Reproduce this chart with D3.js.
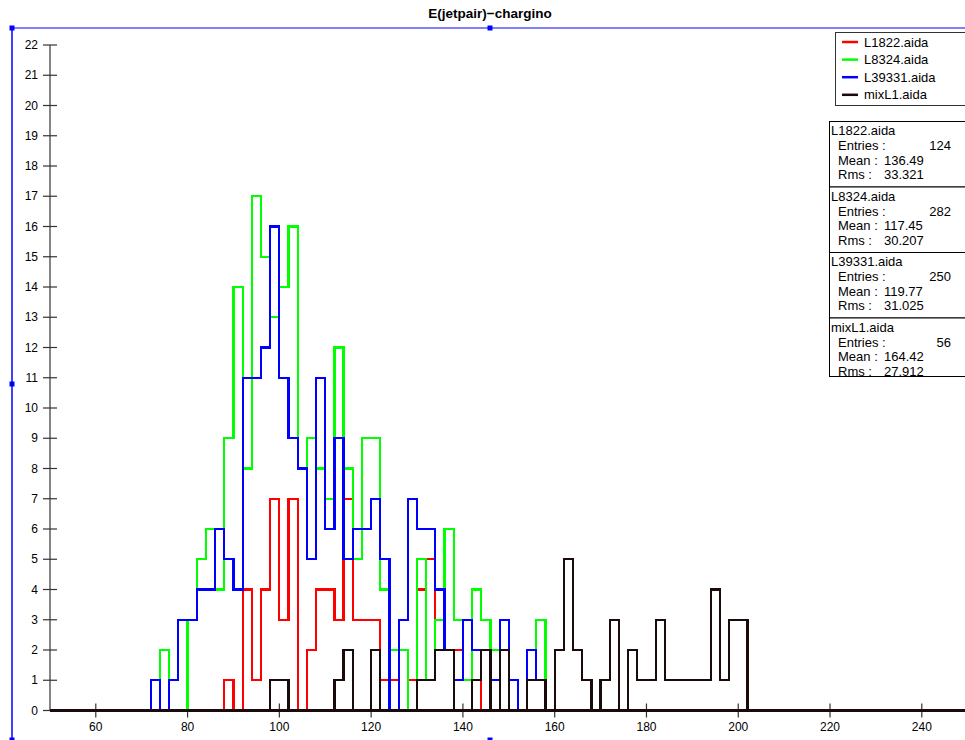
<!DOCTYPE html>
<html><head><meta charset="utf-8">
<script src="https://cdn.jsdelivr.net/npm/d3@7"></script>
<style>body{margin:0;background:#fff;}svg{display:block;font-family:"Liberation Sans",Arial,sans-serif;}</style>
</head><body><svg id="c" width="965" height="740"></svg>
<script>
// Histogram bins: width 2, left edges from 70 to 202 (zero elsewhere in 50..250)
const binWidth = 2;
const firstEdge = 70;
const xDomain = [50, 250];
const yDomain = [0, 22];
const xTicks = [60, 80, 100, 120, 140, 160, 180, 200, 220, 240];
const yTicks = d3.range(0, 23);

const l1822 = [0,0,0,0,0,0,0,0,0, 1,0,4,1,4,7,3,7,0,2,4,4,3,7,3,3,3,1,1,0,1,4,5,2,2,2,1,1,
  0,0,0,0,0,0,0,0,0,0,0,0,0,0,0,0,0,0,0,0,0,0,0,0,0,0,0,0,0,0];
const l8324 = [0,0,2,0,0,3,5,6,4,9,14,8,17,15,13,14,16,8,9,8,7,12,8,5,9,9,4,2,2,0,5,1,3,6,3,1,4,3,2,3,0,0,1,3,
  0,0,0,0,0,0,0,0,0,0,0,0,0,0,0,0,0,0,0,0,0,0,0];
const l39331 = [0,1,0,1,3,3,4,4,6,5,4,11,11,12,16,11,9,8,5,11,6,9,5,6,6,7,5,0,3,7,6,6,4,2,1,3,2,2,1,3,1,0,2,1,
  0,0,0,0,0,0,0,0,0,0,0,0,0,0,0,0,0,0,0,0,0,0,0];
const mixL1 = [0,0,0,0,0,0,0,0,0,0,0,0,0,0, 1,1, 0,0,0,0,0, 1,2,0,0,2,0,0,0,0,1,1,2,2,0,0,1,2,0,2,0,0,1,1,0,2,5,2,1,0,1,3,0,2,1,1,3,1,1,1,1,1,4,1,3,3,0];

const seriesNames = ["L1822.aida", "L8324.aida", "L39331.aida", "mixL1.aida"];
const seriesColors = ["#ff0000", "#00ff00", "#0000ff", "#1a0a0a"];
const seriesData = [l1822, l8324, l39331, mixL1];
const statEntries = ["124", "282", "250", "56"];
const statMeans = ["136.49", "117.45", "119.77", "164.42"];
const statRms = ["33.321", "30.207", "31.025", "27.912"];
const title = "E(jetpair)\u2212chargino";

const svg = d3.select("#c");
const x = d3.scaleLinear().domain(xDomain).range([49.9, 967.7]);
const y = d3.scaleLinear().domain(yDomain).range([710.5, 45]);

// title
svg.append("text").attr("x", 490).attr("y", 18).attr("text-anchor", "middle")
  .attr("font-size", 13.5).attr("font-weight", "bold").attr("fill", "#000").text(title);

// selection frame
svg.append("line").attr("x1", 12).attr("x2", 965).attr("y1", 28).attr("y2", 28)
  .attr("stroke", "#7f7fff").attr("stroke-width", 2);
svg.append("line").attr("x1", 12).attr("x2", 12).attr("y1", 28).attr("y2", 740)
  .attr("stroke", "#0000ff").attr("stroke-width", 1.5);
[[12,28],[490,28],[12,384],[12,740],[490,740]].forEach(p => {
  svg.append("rect").attr("x", p[0]-2.5).attr("y", p[1]-2.5).attr("width", 5).attr("height", 5).attr("fill", "#0000ff");
});

// axes
const axisColor = "#333";
const yAxis = svg.append("g").attr("transform", "translate(50,0)");
yAxis.append("line").attr("x1", 0).attr("x2", 0).attr("y1", y(0)).attr("y2", y(22)).attr("stroke", axisColor).attr("stroke-width", 1.2);
yTicks.forEach(t => {
  yAxis.append("line").attr("x1", -7).attr("x2", 7).attr("y1", y(t)).attr("y2", y(t)).attr("stroke", axisColor).attr("stroke-width", 1.2);
  yAxis.append("text").attr("x", -12).attr("y", y(t)).attr("dy", "0.35em").attr("text-anchor", "end")
    .attr("font-size", 12).attr("fill", "#000").text(t);
});
const xAxis = svg.append("g");
xTicks.forEach(t => {
  xAxis.append("line").attr("x1", x(t)).attr("x2", x(t)).attr("y1", y(0)-7).attr("y2", y(0)+7).attr("stroke", axisColor).attr("stroke-width", 1.2);
  xAxis.append("text").attr("x", x(t)).attr("y", y(0)+20).attr("text-anchor", "middle")
    .attr("font-size", 12).attr("fill", "#000").text(t);
});

// histograms as step lines
function fullBins(arr) {
  const n = Math.round((xDomain[1] - xDomain[0]) / binWidth);
  return d3.range(n).map(i => {
    const edge = xDomain[0] + i * binWidth;
    const k = Math.round((edge - firstEdge) / binWidth);
    return {x0: edge, x1: edge + binWidth, v: (k >= 0 && k < arr.length) ? arr[k] : 0};
  });
}
seriesData.forEach((arr, si) => {
  const bins = fullBins(arr);
  const pts = [];
  bins.forEach(b => { pts.push([b.x0, b.v]); pts.push([b.x1, b.v]); });
  const line = d3.line().x(d => x(d[0])).y(d => y(d[1]));
  svg.append("path").attr("d", line(pts)).attr("fill", "none")
    .attr("stroke", seriesColors[si]).attr("stroke-width", 2.2).attr("stroke-linejoin", "miter")
    .attr("shape-rendering", "crispEdges");
});
// x axis baseline drawn on top (dark, like the last histogram's zero level)
svg.append("line").attr("x1", x(xDomain[0])).attr("x2", 965).attr("y1", y(0)).attr("y2", y(0))
  .attr("stroke", "#1a0a0a").attr("stroke-width", 2.2).attr("shape-rendering", "crispEdges");

// legend
const lg = svg.append("g");
lg.append("rect").attr("x", 835.5).attr("y", 32.5).attr("width", 135).attr("height", 73)
  .attr("fill", "#fff").attr("stroke", "#333").attr("stroke-width", 1);
seriesNames.forEach((n, i) => {
  const yy = 42 + i * 17.6;
  lg.append("line").attr("x1", 842).attr("x2", 858).attr("y1", yy).attr("y2", yy)
    .attr("stroke", seriesColors[i]).attr("stroke-width", 2.5);
  lg.append("text").attr("x", 864).attr("y", yy).attr("dy", "0.35em").attr("font-size", 13).attr("fill", "#000").text(n);
});

// stats boxes
const boxTops = [121, 186.5, 252, 317.5];
const boxH = [65.5, 65.5, 65.5, 58.5];
seriesNames.forEach((n, i) => {
  const g = svg.append("g");
  const t = boxTops[i];
  g.append("rect").attr("x", 829.5).attr("y", t + 0.5).attr("width", 140).attr("height", boxH[i])
    .attr("fill", "#fff").attr("stroke", "#000").attr("stroke-width", 1);
  g.append("text").attr("x", 831).attr("y", t + 9.5).attr("dy", "0.35em").attr("font-size", 13).text(n);
  g.append("text").attr("x", 838).attr("y", t + 24.5).attr("dy", "0.35em").attr("font-size", 13).text("Entries :");
  g.append("text").attr("x", 951).attr("y", t + 24.5).attr("dy", "0.35em").attr("font-size", 13).attr("text-anchor", "end").text(statEntries[i]);
  g.append("text").attr("x", 838).attr("y", t + 39).attr("dy", "0.35em").attr("font-size", 13).text("Mean :");
  g.append("text").attr("x", 884).attr("y", t + 39).attr("dy", "0.35em").attr("font-size", 13).text(statMeans[i]);
  g.append("text").attr("x", 838).attr("y", t + 53.5).attr("dy", "0.35em").attr("font-size", 13).text("Rms :");
  g.append("text").attr("x", 884).attr("y", t + 53.5).attr("dy", "0.35em").attr("font-size", 13).text(statRms[i]);
});
// bottom border of last box drawn over the clipped Rms text
svg.append("line").attr("x1", 829.5).attr("x2", 965).attr("y1", 376.5).attr("y2", 376.5).attr("stroke", "#000");
</script></body></html>
